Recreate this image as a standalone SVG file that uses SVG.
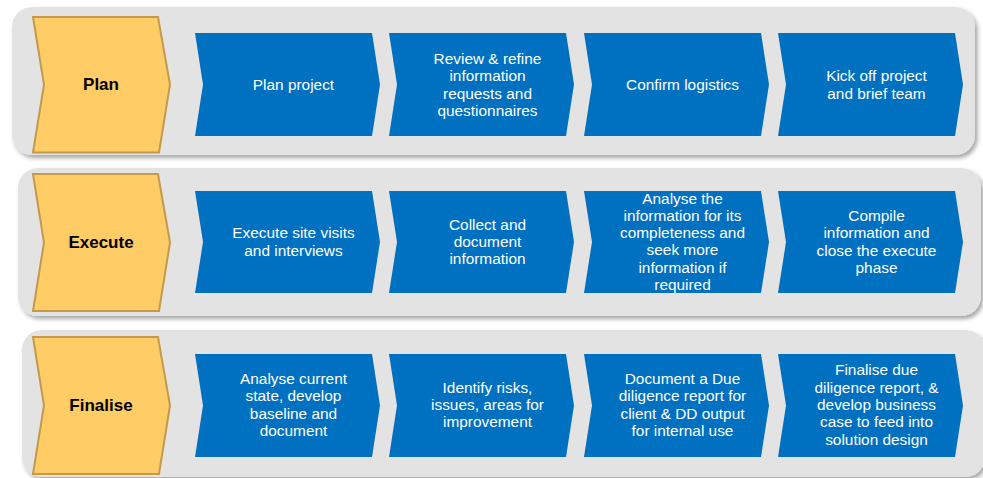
<svg xmlns="http://www.w3.org/2000/svg" width="983" height="478" viewBox="0 0 983 478">
<style>
.panel{fill:#E3E3E3;filter:url(#sh)}
.phase{fill:#FFCC66;stroke:#C29A4C;stroke-width:2;stroke-linejoin:miter}
.step{fill:#0070C0}
.lbl{font-family:"Liberation Sans",Arial,sans-serif;font-weight:bold;font-size:17px;fill:#000;text-anchor:middle}
.txt{font-family:"Liberation Sans",Arial,sans-serif;font-size:15.4px;fill:#fff;text-anchor:middle}
</style>
<defs>
<filter id="sh" x="-5%" y="-10%" width="110%" height="125%">
<feDropShadow dx="2.5" dy="3" stdDeviation="2" flood-color="#000" flood-opacity="0.35"/>
</filter>
</defs>
<rect width="983" height="478" fill="#fff"/>

<g id="row-plan">
<rect class="panel" x="12" y="7" width="963" height="148" rx="20"/>
<g id="plan">
<path class="phase" d="M33,17 L158,17 L170,84.5 L159,152.5 L33,152.5 L44,84.5 Z"/>
<text class="lbl" x="101" y="90">Plan</text>
</g>
<g id="plan-1">
<path class="step" d="M195,33 L372,33 L380,84.5 L372,136 L195,136 L203,84.5 Z"/>
<text class="txt" x="293.5" y="90">Plan project</text>
</g>
<g id="plan-2">
<path class="step" d="M389,33 L566,33 L574,84.5 L566,136 L389,136 L397,84.5 Z"/>
<text class="txt" x="487.5" y="64"><tspan x="487.5">Review &amp; refine</tspan><tspan x="487.5" dy="17.3">information</tspan><tspan x="487.5" dy="17.3">requests and</tspan><tspan x="487.5" dy="17.3">questionnaires</tspan></text>
</g>
<g id="plan-3">
<path class="step" d="M584,33 L761,33 L769,84.5 L761,136 L584,136 L592,84.5 Z"/>
<text class="txt" x="682.5" y="90">Confirm logistics</text>
</g>
<g id="plan-4">
<path class="step" d="M778,33 L955,33 L963,84.5 L955,136 L778,136 L786,84.5 Z"/>
<text class="txt" x="876.5" y="81.3"><tspan x="876.5">Kick off project</tspan><tspan x="876.5" dy="17.3">and brief team</tspan></text>
</g>
</g>

<g id="row-execute">
<rect class="panel" x="18" y="168" width="963" height="148" rx="20"/>
<g id="execute">
<path class="phase" d="M33,174 L158,174 L170,242.5 L159,311 L33,311 L44,242.5 Z"/>
<text class="lbl" x="101" y="248">Execute</text>
</g>
<g id="execute-1">
<path class="step" d="M195,191 L372,191 L380,242 L372,293 L195,293 L203,242 Z"/>
<text class="txt" x="293.5" y="238.3"><tspan x="293.5">Execute site visits</tspan><tspan x="293.5" dy="17.3">and interviews</tspan></text>
</g>
<g id="execute-2">
<path class="step" d="M389,191 L566,191 L574,242 L566,293 L389,293 L397,242 Z"/>
<text class="txt" x="487.5" y="229.7"><tspan x="487.5">Collect and</tspan><tspan x="487.5" dy="17.3">document</tspan><tspan x="487.5" dy="17.3">information</tspan></text>
</g>
<g id="execute-3">
<path class="step" d="M584,191 L761,191 L769,242 L761,293 L584,293 L592,242 Z"/>
<text class="txt" x="682.5" y="203.5"><tspan x="682.5">Analyse the</tspan><tspan x="682.5" dy="17.3">information for its</tspan><tspan x="682.5" dy="17.3">completeness and</tspan><tspan x="682.5" dy="17.3">seek more</tspan><tspan x="682.5" dy="17.3">information if</tspan><tspan x="682.5" dy="17.3">required</tspan></text>
</g>
<g id="execute-4">
<path class="step" d="M778,191 L955,191 L963,242 L955,293 L778,293 L786,242 Z"/>
<text class="txt" x="876.5" y="221"><tspan x="876.5">Compile</tspan><tspan x="876.5" dy="17.3">information and</tspan><tspan x="876.5" dy="17.3">close the execute</tspan><tspan x="876.5" dy="17.3">phase</tspan></text>
</g>
</g>

<g id="row-finalise">
<rect class="panel" x="22" y="330" width="963" height="147" rx="20"/>
<g id="finalise">
<path class="phase" d="M33,337 L158,337 L170,405.5 L159,474 L33,474 L44,405.5 Z"/>
<text class="lbl" x="101" y="411">Finalise</text>
</g>
<g id="finalise-1">
<path class="step" d="M195,354 L372,354 L380,405.5 L372,457 L195,457 L203,405.5 Z"/>
<text class="txt" x="293.5" y="384"><tspan x="293.5">Analyse current</tspan><tspan x="293.5" dy="17.3">state, develop</tspan><tspan x="293.5" dy="17.3">baseline and</tspan><tspan x="293.5" dy="17.3">document</tspan></text>
</g>
<g id="finalise-2">
<path class="step" d="M389,354 L566,354 L574,405.5 L566,457 L389,457 L397,405.5 Z"/>
<text class="txt" x="487.5" y="392.7"><tspan x="487.5">Identify risks,</tspan><tspan x="487.5" dy="17.3">issues, areas for</tspan><tspan x="487.5" dy="17.3">improvement</tspan></text>
</g>
<g id="finalise-3">
<path class="step" d="M584,354 L761,354 L769,405.5 L761,457 L584,457 L592,405.5 Z"/>
<text class="txt" x="682.5" y="384"><tspan x="682.5">Document a Due</tspan><tspan x="682.5" dy="17.3">diligence report for</tspan><tspan x="682.5" dy="17.3">client &amp; DD output</tspan><tspan x="682.5" dy="17.3">for internal use</tspan></text>
</g>
<g id="finalise-4">
<path class="step" d="M778,354 L955,354 L963,405.5 L955,457 L778,457 L786,405.5 Z"/>
<text class="txt" x="876.5" y="375.4"><tspan x="876.5">Finalise due</tspan><tspan x="876.5" dy="17.3">diligence report, &amp;</tspan><tspan x="876.5" dy="17.3">develop business</tspan><tspan x="876.5" dy="17.3">case to feed into</tspan><tspan x="876.5" dy="17.3">solution design</tspan></text>
</g>
</g>

<g id="connectors"></g>
</svg>
